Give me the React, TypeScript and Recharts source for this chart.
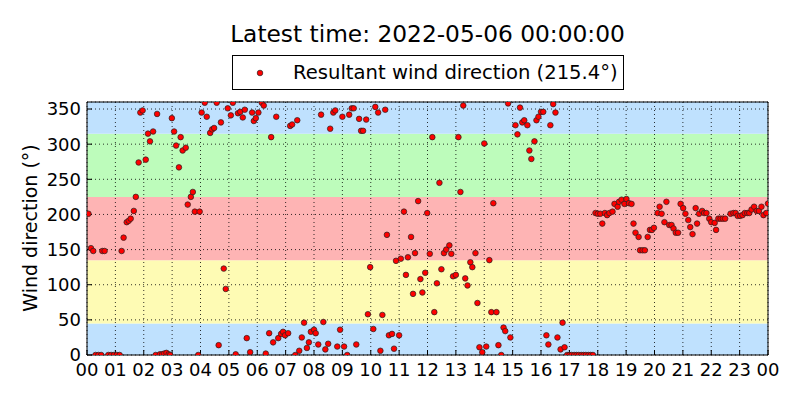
import React from 'react';
import {
  ScatterChart,
  Scatter,
  XAxis,
  YAxis,
  CartesianGrid,
  ReferenceArea,
  Legend,
} from 'recharts';

// hours since 00:00 and resultant wind direction (deg)
const hours = [
  0.05, 0.14, 0.22, 0.3, 0.4, 0.5, 0.54, 0.62, 0.75, 0.85, 0.95, 1.05, 1.15, 1.22, 1.29, 1.4, 1.47, 1.54, 1.65, 1.72,
  1.82, 1.88, 1.96, 2.07, 2.15, 2.22, 2.33, 2.42, 2.47, 2.57, 2.65, 2.72, 2.8, 2.88, 2.93, 2.99, 3.07, 3.14, 3.24, 3.3,
  3.37, 3.48, 3.55, 3.66, 3.73, 3.8, 3.92, 3.97, 4.04, 4.15, 4.22, 4.34, 4.41, 4.48, 4.57, 4.64, 4.72, 4.82, 4.89, 4.96,
  5.07, 5.14, 5.24, 5.32, 5.4, 5.49, 5.56, 5.63, 5.75, 5.82, 5.88, 5.95, 6.04, 6.16, 6.23, 6.3, 6.42, 6.49, 6.56, 6.67,
  6.74, 6.84, 6.91, 6.98, 7.09, 7.16, 7.23, 7.34, 7.41, 7.48, 7.57, 7.65, 7.75, 7.82, 7.89, 8.0, 8.06, 8.15, 8.25, 8.33,
  8.4, 8.5, 8.57, 8.68, 8.75, 8.82, 8.92, 9.0, 9.06, 9.17, 9.24, 9.33, 9.4, 9.49, 9.59, 9.66, 9.73, 9.84, 9.9, 9.98,
  10.09, 10.16, 10.26, 10.34, 10.41, 10.51, 10.57, 10.64, 10.75, 10.82, 10.89, 11.0, 11.06, 11.17, 11.24, 11.31, 11.42,
  11.49, 11.56, 11.67, 11.75, 11.82, 11.92, 11.99, 12.08, 12.17, 12.24, 12.33, 12.42, 12.49, 12.58, 12.66, 12.77, 12.84,
  12.9, 13.0, 13.09, 13.16, 13.26, 13.33, 13.41, 13.51, 13.58, 13.69, 13.76, 13.83, 13.93, 14.0, 14.07, 14.18, 14.25,
  14.32, 14.43, 14.5, 14.6, 14.68, 14.74, 14.84, 14.92, 15.1, 15.17, 15.26, 15.34, 15.41, 15.52, 15.59, 15.66, 15.77,
  15.84, 15.91, 16.0, 16.08, 16.19, 16.26, 16.33, 16.43, 16.51, 16.58, 16.69, 16.76, 16.83, 16.92, 17.0, 17.08, 17.17,
  17.25, 17.33, 17.42, 17.5, 17.58, 17.67, 17.75, 17.83, 17.92, 18.0, 18.09, 18.16, 18.25, 18.33, 18.41, 18.52, 18.59,
  18.7, 18.75, 18.84, 18.94, 19.01, 19.1, 19.19, 19.26, 19.33, 19.44, 19.49, 19.58, 19.66, 19.76, 19.84, 19.91, 19.98,
  20.11, 20.18, 20.25, 20.35, 20.42, 20.52, 20.6, 20.67, 20.75, 20.83, 20.92, 21.01, 21.09, 21.19, 21.26, 21.34, 21.45,
  21.5, 21.57, 21.68, 21.75, 21.83, 21.93, 22.0, 22.12, 22.17, 22.25, 22.33, 22.41, 22.49, 22.68, 22.78, 22.86, 22.93,
  23.02, 23.1, 23.18, 23.27, 23.34, 23.42, 23.51, 23.6, 23.68, 23.77, 23.84, 23.94, 24.0,
];

const directions = [
  201, 152, 148, 0, 0, 0, 148, 148, 0, 0, 0, 0, 0, 148, 167, 189, 191, 194, 205, 225,
  274, 345, 348, 278, 315, 304, 318, 0, 343, 1, 1, 2, 3, 1, 0, 337, 318, 298, 267, 310,
  291, 295, 214, 225, 232, 204, 0, 204, 345, 359, 339, 316, 321, 323, 359, 14, 331, 123, 94, 351,
  341, 359, 1, 344, 346, 338, 349, 24, 4, 345, 333, 337, 345, 359, 355, 2, 31, 310, 18, 339,
  24, 30, 33, 28, 31, 326, 328, 0, 334, 6, 25, 46, 10, 18, 33, 36, 31, 15, 342, 47,
  8, 16, 322, 345, 348, 12, 36, 339, 12, 0, 342, 351, 351, 15, 336, 319, 319, 335, 58, 125,
  37, 353, 345, 6, 57, 349, 171, 28, 30, 9, 134, 28, 137, 204, 114, 139, 168,
  87, 145, 219, 108, 89, 117, 202, 144, 310, 61, 102, 245, 122, 145, 150, 156, 144,
  112, 114, 310, 232, 355, 109, 99, 132, 125, 145, 74, 11, 4, 301, 12, 135, 61,
  216, 61, 14, 0, 39, 34, 358, 25, 327, 314, 352, 331, 334, 327, 291, 279, 304,
  334, 339, 346, 346, 28, 15, 327, 357, 345, 25, 8, 46, 11, 0, 0, 0, 0,
  0, 0, 0, 0, 0, 0, 0, 0, 202, 201, 201, 187, 202, 199, 202, 204, 215,
  211, 218, 221, 215, 222, 216, 215, 187, 174, 168, 149, 149, 149, 168, 178, 178, 181,
  202, 211, 201, 189, 218, 185, 185, 180, 174, 174, 215, 209, 201, 192, 182, 172, 209,
  187, 201, 205, 202, 202, 194, 189, 188, 178, 194, 194, 194, 194, 201, 202, 202, 198,
  198, 199, 202, 202, 202, 207, 211, 205, 205, 211, 199, 202, 215.4,
];

const hourTicks = [0, 1, 2, 3, 4, 5, 6, 7, 8, 9, 10, 11, 12, 13, 14, 15, 16, 17, 18, 19, 20, 21, 22, 23, 24];
const degTicks = [0, 50, 100, 150, 200, 250, 300, 350];

// direction bands
const bands = [
  { y1: 0, y2: 45, color: '#bfe1fe' },
  { y1: 45, y2: 135, color: '#fefbb4' },
  { y1: 135, y2: 225, color: '#feb4b4' },
  { y1: 225, y2: 315, color: '#bdfcbb' },
  { y1: 315, y2: 360, color: '#bfe1fe' },
];

const latestTime = '2022-05-06 00:00:00';

const data = hours.map((h, i) => ({ hour: h, dir: directions[i] }));
const latest = directions[directions.length - 1];

const font = 'DejaVu Sans, sans-serif';
const tickStyle = { fill: '#000', fontSize: 18, fontFamily: font };

const Dot = (props: any) => {
  const { cx, cy } = props;
  if (cx == null || cy == null) return null;
  return <circle cx={cx} cy={cy} r={2.8} fill="#f00" stroke="#222" strokeWidth={0.7} />;
};

const LegendBox = (props: any) => {
  const item = props.payload && props.payload[0];
  return (
    <div
      style={{
        boxSizing: 'border-box',
        width: 392,
        height: 35,
        border: '1px solid #000',
        background: '#fff',
        display: 'flex',
        alignItems: 'center',
        fontFamily: font,
        fontSize: 19.6,
        color: '#000',
      }}
    >
      <svg width={60} height={20}>
        <circle cx={27} cy={10} r={2.8} fill="#f00" stroke="#222" strokeWidth={0.7} />
      </svg>
      <span>{item ? item.value : ''}</span>
    </div>
  );
};

const hourLabel = (h: number) => String(h % 24).padStart(2, '0');
const noLabel = () => <g />;

export default function App() {
  return (
    <div style={{ position: 'absolute', left: 0, top: 0, width: 800, height: 400, background: '#fff', fontFamily: font }}>
      <div
        style={{
          position: 'absolute',
          left: 0,
          width: 855,
          top: 22,
          textAlign: 'center',
          fontSize: 23.3,
          lineHeight: '23px',
          color: '#000',
        }}
      >
        Latest time: {latestTime}
      </div>
      <div
        style={{
          position: 'absolute',
          left: 30,
          top: 228,
          transform: 'translate(-50%, -50%) rotate(-90deg)',
          whiteSpace: 'nowrap',
          fontSize: 19,
          lineHeight: '19px',
          color: '#000',
        }}
      >
        Wind direction (°)
      </div>
      <ScatterChart width={800} height={400} margin={{ top: 101, right: 31, bottom: 44, left: 86 }}>
        {bands.map((b, i) => (
          <ReferenceArea
            key={i}
            y1={b.y1}
            y2={b.y2}
            fill={b.color}
            fillOpacity={1}
            stroke="none"
            ifOverflow="hidden"
            zIndex={-200}
          />
        ))}
        <CartesianGrid stroke="#000" strokeWidth={0.8} strokeDasharray="1 3" zIndex={-150} />
        <XAxis
          type="number"
          dataKey="hour"
          domain={[0, 24]}
          ticks={hourTicks}
          tickFormatter={hourLabel}
          height={1}
          tick={tickStyle}
          tickSize={-5}
          tickMargin={13}
          axisLine={{ stroke: '#000' }}
          tickLine={{ stroke: '#000' }}
          interval={0}
          allowDataOverflow
        />
        <XAxis
          xAxisId="top"
          orientation="top"
          type="number"
          domain={[0, 24]}
          ticks={hourTicks}
          height={1}
          tick={noLabel}
          tickSize={-5}
          axisLine={{ stroke: '#000' }}
          tickLine={{ stroke: '#000' }}
          interval={0}
        />
        <YAxis
          type="number"
          dataKey="dir"
          domain={[0, 360]}
          ticks={degTicks}
          width={1}
          tick={tickStyle}
          tickSize={-5}
          tickMargin={11}
          axisLine={{ stroke: '#000' }}
          tickLine={{ stroke: '#000' }}
          interval={0}
          allowDataOverflow
        />
        <YAxis
          yAxisId="right"
          orientation="right"
          type="number"
          domain={[0, 360]}
          ticks={degTicks}
          width={1}
          tick={noLabel}
          tickSize={-5}
          axisLine={{ stroke: '#000' }}
          tickLine={{ stroke: '#000' }}
          interval={0}
        />
        <Legend
          verticalAlign="middle"
          align="center"
          wrapperStyle={{ position: 'absolute', top: 55, left: 232, width: 392, height: 35 }}
          content={<LegendBox />}
        />
        <Scatter
          name={`Resultant wind direction (${latest.toFixed(1)}°)`}
          data={data}
          fill="#f00"
          shape={<Dot />}
          isAnimationActive={false}
        />
      </ScatterChart>
    </div>
  );
}
